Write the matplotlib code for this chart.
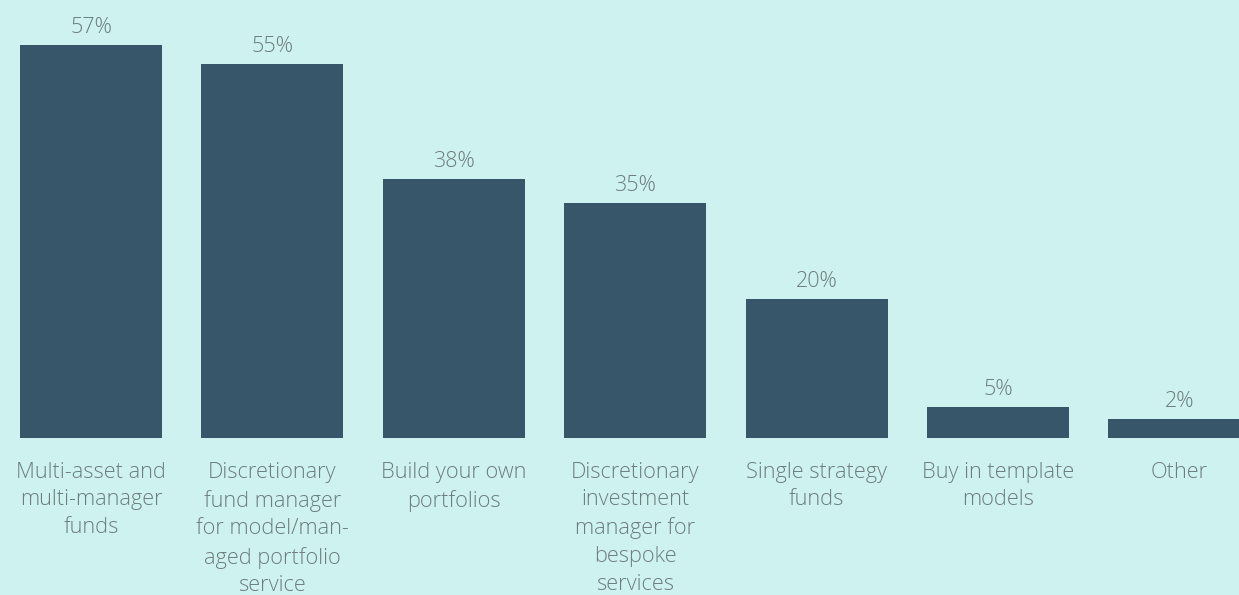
import numpy as np
from matplotlib import pyplot as plt

categories = ["Multi-asset and\nmulti-manager\nfunds",
              "Discretionary\nfund manager\nfor model/man-\naged portfolio\nservice",
              "Build your own\nportfolios",
              "Discretionary\ninvestment\nmanager for\nbespoke\nservices",
              "Single strategy\nfunds",
              "Buy in template\nmodels",
              "Other"]
values = [57.4, 54.6, 37.8, 34.3, 20.3, 4.5, 2.8]  # bar heights
pct_labels = ["57%", "55%", "38%", "35%", "20%", "5%", "2%"]

bg = '#cef2ef'
bar_col = '#37566a'
txt_col = '#6e7c80'

fig = plt.figure(figsize=(12.39, 5.95), dpi=100, facecolor=bg)
ax = fig.add_axes([0, 157/595, 1, 438/595])
ax.set_facecolor(bg)

x = np.arange(len(values))
bars = ax.bar(x, values, width=0.783, color=bar_col)
ax.bar_label(bars, labels=pct_labels, padding=5, color=txt_col,
             fontsize=15.5, family='Open Sans', fontweight='light')

ax.set_xlim(-91/181.4, (1239-91)/181.4)
ax.set_ylim(0, 438/6.85)
ax.set_xticks(x)
ax.set_xticklabels(categories, color=txt_col, fontsize=15.7, family='Open Sans',
                   fontweight='light', linespacing=1.42, va='top')
ax.tick_params(axis='x', length=0, pad=17)
ax.set_yticks([])
for s in ax.spines.values():
    s.set_visible(False)

plt.savefig('out.png', dpi=100, facecolor=bg)
